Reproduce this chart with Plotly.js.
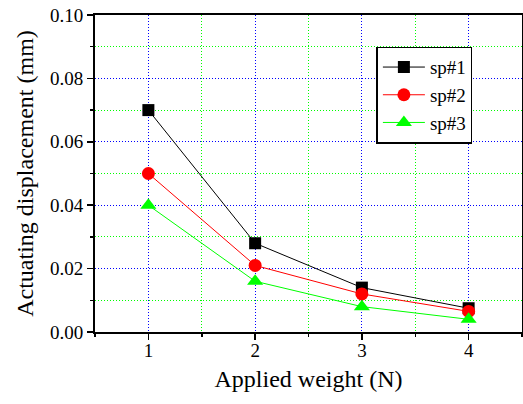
<!DOCTYPE html>
<html><head><meta charset="utf-8">
<script src="https://cdn.plot.ly/plotly-3.0.1.min.js"></script>
<style>body{margin:0;padding:0;background:#fff}#c{width:523px;height:404px}</style>
</head><body><div id="c"></div>
<script>
const weights = [1, 2, 3, 4];
const sp1 = [0.070, 0.028, 0.014, 0.0075];
const sp2 = [0.050, 0.021, 0.012, 0.0065];
const sp3 = [0.040, 0.016, 0.008, 0.004];
const names = ['sp#1', 'sp#2', 'sp#3'];
const colors = ['#000000', '#ff0000', '#00ff00'];
const symbols = ['square', 'circle', 'triangle-up'];
const sizes = [12, 13, 14];
const series = [sp1, sp2, sp3];
const font = 'Liberation Serif';

const traces = series.map((s, i) => ({
  x: weights, y: s, name: names[i], type: 'scatter', mode: 'lines+markers',
  line: {color: colors[i], width: 1},
  marker: {symbol: symbols[i], size: sizes[i], color: colors[i]}
}));

function axisCommon() {
  return {
    showline: true, linecolor: '#000', linewidth: 2, mirror: true,
    ticks: 'outside', ticklen: 6, tickwidth: 1.5, tickcolor: '#000',
    showgrid: true, gridcolor: '#0000ff', griddash: '1px,2px', gridwidth: 1,
    zeroline: false,
    tickfont: {family: font, size: 19, color: '#000'}
  };
}

const layout = {
  width: 523, height: 404,
  margin: {l: 95, r: 1, t: 15, b: 72},
  paper_bgcolor: '#fff', plot_bgcolor: '#fff',
  font: {family: font, size: 19, color: '#000'},
  showlegend: true,
  legend: {x: 0.659, y: 0.9, xanchor: 'left', yanchor: 'top', bgcolor: '#fff',
    bordercolor: '#000', borderwidth: 1.5, font: {family: font, size: 19, color: '#000'},
    tracegroupgap: 0, itemwidth: 42},
  xaxis: Object.assign(axisCommon(), {
    range: [0.5, 4.5], tickvals: weights, ticktext: weights.map(String),
    ticklabelstandoff: -6,
    minor: {dtick: 0.5, tick0: 0.5, ticks: 'outside', ticklen: 3, tickcolor: '#000', showgrid: true, gridcolor: '#00ff00', griddash: '1px,2px', gridwidth: 1},
    title: {text: 'Applied weight (N)', font: {family: font, size: 24, color: '#000'}, standoff: 10}
  }),
  yaxis: Object.assign(axisCommon(), {
    range: [0, 0.1], dtick: 0.02, tickformat: '.2f',
    minor: {dtick: 0.01, ticks: 'outside', ticklen: 3, tickcolor: '#000', showgrid: true, gridcolor: '#00ff00', griddash: '1px,2px', gridwidth: 1},
    title: {text: 'Actuating displacement (mm)', font: {family: font, size: 24, color: '#000'}, standoff: 10}
  })
};
Plotly.newPlot('c', traces, layout, {displayModeBar: false, staticPlot: true});
</script></body></html>
